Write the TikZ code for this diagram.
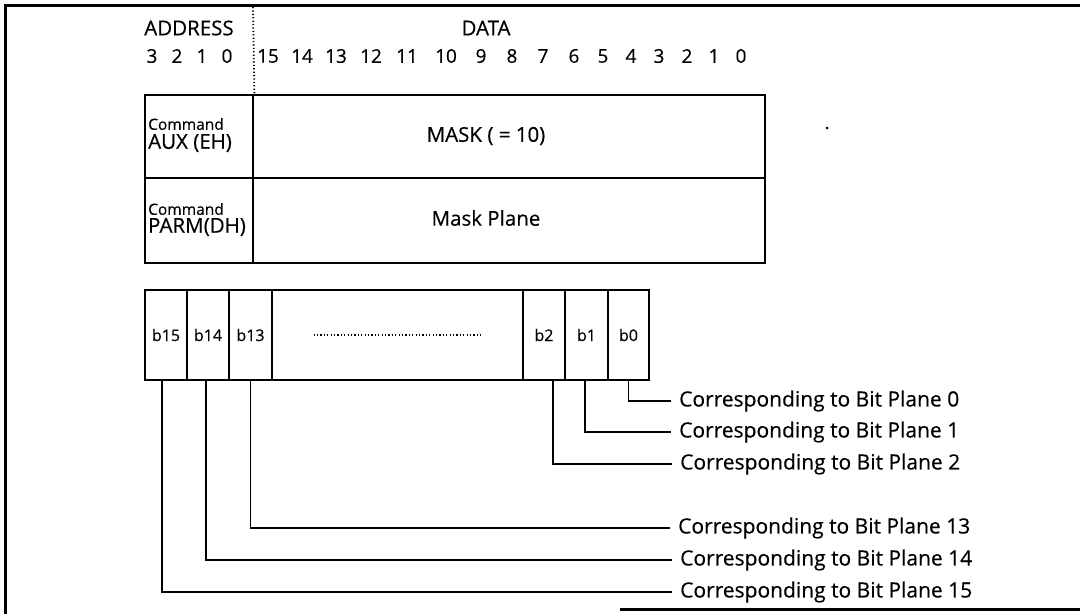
\documentclass[tikz,border=0pt]{standalone}
\usepackage{fontspec}
\setmainfont{Open Sans}[FakeBold=0.4]
\begin{document}
\begin{tikzpicture}[x=1pt,y=-1pt,
  frameline/.style={line width=3pt},
  cell/.style={draw, line width=2.8pt, inner sep=0pt},
  lead/.style={line width=1.6pt},
  txt/.style={inner sep=0pt, font=\fontsize{20.5}{24}\selectfont},
  num/.style={inner sep=0pt, font=\fontsize{19}{22}\selectfont},
  small/.style={inner sep=0pt, font=\fontsize{15.5}{18}\selectfont, anchor=west},
  bit/.style={cell, minimum height=90pt, font=\fontsize{16}{19}\selectfont},
  lbl/.style={inner xsep=8pt, inner ysep=0pt, anchor=west, font=\fontsize{21}{24}\selectfont},
  dotline/.style={line width=1.8pt, dash pattern=on 1.2pt off 2.2pt}]
\useasboundingbox (0,0) rectangle (1080,614);
% frame
\coordinate (ftl) at (5,5);
\coordinate (ftr) at (1080,5);
\coordinate (fbl) at (5,614);
\coordinate (fbs) at (620,609);
\coordinate (fbe) at (1080,609);
\draw[frameline] (ftr) -- (ftl) -- (fbl);
\draw[frameline] (fbs) -- (fbe);
% headers
\node[txt] (addr) at (189,28) {ADDRESS};
\node[txt] (data) at (486,28) {DATA};
\foreach \d/\x in {3/152,2/177,1/202,0/227}
  \node[num] (a\d) at (\x,56) {\d};
\foreach \d/\x in {15/268,14/302,13/336,12/371,11/407,10/446,9/481,8/512,7/543,6/574,5/603,4/631,3/659,2/687,1/714,0/741}
  \node[num] (d\d) at (\x,56) {\d};
% register box
\node[cell, minimum width=108pt, minimum height=83pt] (aux) at (199,136.5) {};
\node[cell, minimum width=512pt, minimum height=83pt] (mask) at (509,136.5) {};
\node[cell, minimum width=108pt, minimum height=85pt] (parm) at (199,220.5) {};
\node[cell, minimum width=512pt, minimum height=85pt] (plane) at (509,220.5) {};
\coordinate (dtop) at (253,7);
\draw[dotline] (dtop) -- (aux.north east);
\node[small] (c1) at (148,124) {Command};
\node[txt, anchor=west] (auxt) at (148,143) {AUX (EH)};
\node[small] (c2) at (148,209) {Command};
\node[txt, anchor=west] (parmt) at (148,227) {PARM(DH)};
\node[txt] (maskt) at (486,136) {MASK ( = 10)};
\node[txt] (planet) at (486,218) {Mask Plane};
\fill (827,128) circle (1.5);
% bit box
\node[bit, minimum width=42pt] (b15) at (166,335) {b15};
\node[bit, minimum width=42pt] (b14) at (208,335) {b14};
\node[bit, minimum width=43pt] (b13) at (250.5,335) {b13};
\node[bit, minimum width=251pt] (dots) at (397.5,335) {};
\node[bit, minimum width=42pt] (b2) at (544,335) {b2};
\node[bit, minimum width=43pt] (b1) at (586.5,335) {b1};
\node[bit, minimum width=41pt] (b0) at (628.5,335) {b0};
\draw[dotline, line width=1.4pt] ([xshift=-84pt]dots.center) -- ([xshift=84pt]dots.center);
% labels
\node[lbl] (l0) at (671,401) {Corresponding to Bit Plane 0};
\node[lbl] (l1) at (671,432) {Corresponding to Bit Plane 1};
\node[lbl] (l2) at (672,464) {Corresponding to Bit Plane 2};
\node[lbl] (l13) at (670,528) {Corresponding to Bit Plane 13};
\node[lbl] (l14) at (672,560) {Corresponding to Bit Plane 14};
\node[lbl] (l15) at (672,592) {Corresponding to Bit Plane 15};
\draw[lead] (b0.south) |- (l0.west);
\draw[lead] ([xshift=-1.5pt]b1.south) |- (l1.west);
\draw[lead] ([xshift=9pt]b2.south) |- (l2.west);
\draw[lead] (b13.south) |- (l13.west);
\draw[lead] ([xshift=-2pt]b14.south) |- (l14.west);
\draw[lead] ([xshift=-4pt]b15.south) |- (l15.west);
\end{tikzpicture}
\end{document}
